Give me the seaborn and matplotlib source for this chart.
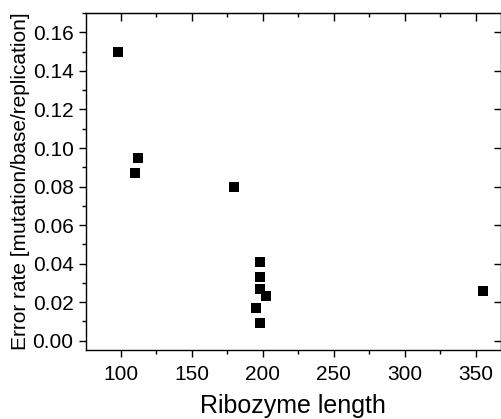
import matplotlib
matplotlib.use("Agg")
import matplotlib.pyplot as plt
import seaborn as sns
import pandas as pd
from matplotlib.ticker import MultipleLocator

# ribozyme length vs error rate
lengths = [98, 110, 112, 180, 198, 198, 198, 202, 195, 198, 355]
error_rates = [0.150, 0.087, 0.095, 0.080, 0.041, 0.033, 0.027, 0.023, 0.017, 0.009, 0.026]

df = pd.DataFrame({"length": lengths, "error": error_rates})

sns.set_style("ticks")
plt.rcParams['font.family'] = ['Liberation Sans', 'DejaVu Sans']
plt.rcParams['text.color'] = 'black'
plt.rcParams['axes.labelcolor'] = 'black'
plt.rcParams['xtick.color'] = 'black'
plt.rcParams['ytick.color'] = 'black'

fig = plt.figure(figsize=(5.01, 4.19), dpi=100)
ax = fig.add_axes([0.1717, 0.1647, 0.828, 0.804])

sns.scatterplot(data=df, x="length", y="error", marker="s", color="black",
                s=55, linewidth=0, ax=ax)

ax.set_xlim(75.5, 367.5)
ax.set_ylim(-0.0048, 0.170)
ax.xaxis.set_major_locator(MultipleLocator(50))
ax.xaxis.set_minor_locator(MultipleLocator(25))
ax.yaxis.set_major_locator(MultipleLocator(0.02))
ax.yaxis.set_minor_locator(MultipleLocator(0.01))
ax.yaxis.set_major_formatter(plt.FormatStrFormatter("%.2f"))

ax.tick_params(which="major", direction="out", length=5, width=1, labelsize=15,
               color="black", labelcolor="black")
ax.tick_params(axis="x", which="major", pad=6)
ax.tick_params(axis="y", which="major", pad=4)
ax.tick_params(which="minor", direction="out", length=3, width=1, color="black")

ax.set_xlabel("Ribozyme length", fontsize=18, labelpad=7, color="black")
ax.set_ylabel("Error rate [mutation/base/replication]", fontsize=15, labelpad=2, color="black")

for sp in ax.spines.values():
    sp.set_visible(True)
    sp.set_linewidth(1)
    sp.set_color("black")

# mirrored ticks on top and right, pointing in
top = ax.secondary_xaxis("top")
top.xaxis.set_major_locator(MultipleLocator(50))
top.xaxis.set_minor_locator(MultipleLocator(25))
top.tick_params(which="major", direction="in", length=6, width=1, labeltop=False, color="black")
top.tick_params(which="minor", direction="in", length=3, width=1, color="black")

right = ax.secondary_yaxis("right")
right.yaxis.set_major_locator(MultipleLocator(0.02))
right.yaxis.set_minor_locator(MultipleLocator(0.01))
right.tick_params(which="major", direction="in", length=5, width=1, labelright=False, color="black")
right.tick_params(which="minor", length=0)

fig.savefig("out.png", dpi=100)
